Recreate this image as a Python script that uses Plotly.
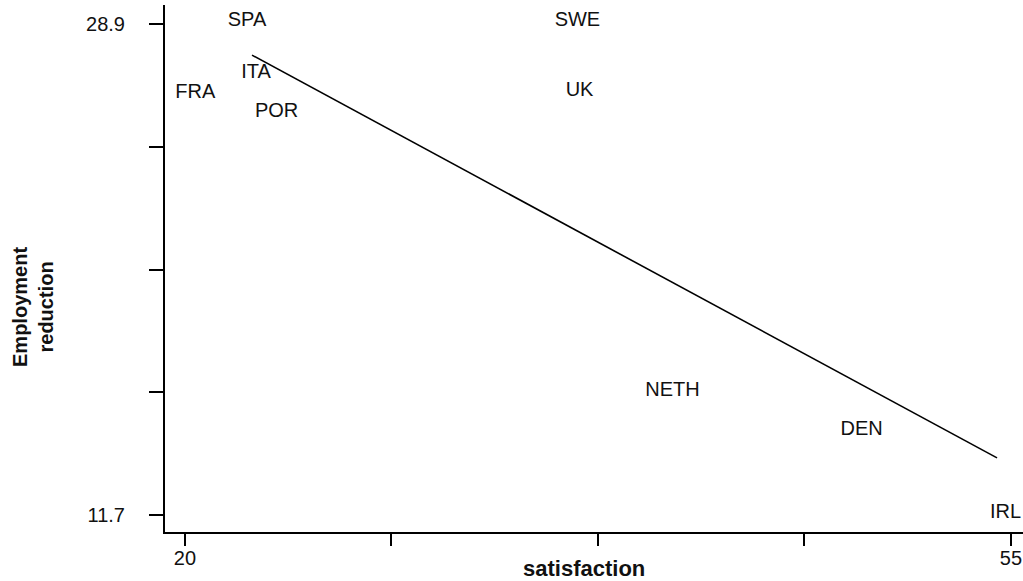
import plotly.graph_objects as go

# Country scores: satisfaction (x) vs employment reduction (y)
countries = ["FRA", "SPA", "ITA", "POR", "SWE", "UK", "NETH", "DEN", "IRL"]
satisfaction = [20.44, 22.63, 23.01, 23.88, 36.63, 36.72, 40.66, 48.67, 54.77]
employment_reduction = [26.50, 28.99, 27.20, 25.83, 29.02, 26.54, 16.06, 14.66, 11.77]

# Linear fit line endpoints
fit_x = [22.84, 54.41]
fit_y = [27.81, 13.70]

# Axis ticks
x_tickvals = [20, 28.75, 37.5, 46.25, 55]
x_ticktext = ["20", "", "", "", "55"]
y_tickvals = [11.7, 16.0, 20.3, 24.6, 28.9]
y_ticktext = ["11.7", "", "", "", "28.9"]

FONT = "Liberation Sans, Arial, sans-serif"

fig = go.Figure()

fig.add_trace(go.Scatter(
    x=fit_x, y=fit_y, mode="lines",
    line=dict(color="black", width=1.6),
    hoverinfo="skip", showlegend=False,
))

fig.add_trace(go.Scatter(
    x=satisfaction, y=employment_reduction, mode="text",
    text=countries, textposition="middle center",
    textfont=dict(family=FONT, size=20, color="#111111"),
    showlegend=False,
))

fig.update_xaxes(
    range=[19.153, 55.51],
    tickvals=x_tickvals, ticktext=x_ticktext,
    ticks="outside", ticklen=12, tickwidth=2, tickcolor="black",
    showline=True, linecolor="black", linewidth=2,
    showgrid=False, zeroline=False,
    ticklabelstandoff=-5,
    tickfont=dict(family=FONT, size=20, color="#111111"),
)
fig.update_yaxes(
    range=[11.104, 29.566],
    tickvals=y_tickvals, ticktext=y_ticktext,
    ticks="outside", ticklen=14, tickwidth=2, tickcolor="black",
    showline=True, linecolor="black", linewidth=2,
    showgrid=False, zeroline=False,
    ticklabelstandoff=20,
    tickfont=dict(family=FONT, size=20, color="#111111"),
)

fig.add_annotation(
    text="<b>satisfaction</b>", xref="paper", yref="paper",
    x=0.488, y=-0.070, xanchor="center", yanchor="middle",
    showarrow=False, font=dict(family=FONT, size=22, color="#111111"),
)
fig.add_annotation(
    text="<b>Employment</b><br><b>reduction</b>", xref="paper", yref="paper",
    x=0, xshift=-132, y=0.427, xanchor="center", yanchor="middle",
    textangle=-90, showarrow=False,
    font=dict(family=FONT, size=20, color="#111111"),
)

fig.update_layout(
    width=1023, height=581,
    margin=dict(l=165, r=0, t=5, b=49),
    paper_bgcolor="white", plot_bgcolor="white",
)

fig.write_html("out.html")
